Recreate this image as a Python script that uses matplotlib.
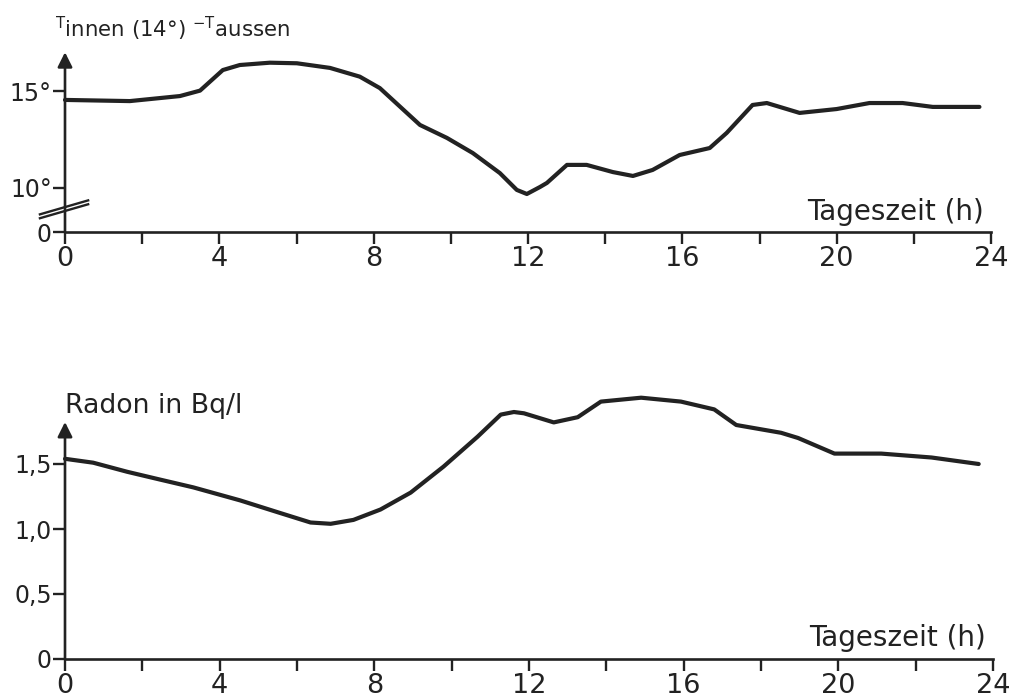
import numpy as np
import matplotlib.pyplot as plt

# Temperaturdifferenz innen - aussen (Grad)
t_hours = [0, 1.68, 2.98, 3.50, 4.09, 4.53, 5.31, 6.01, 6.87, 7.64, 8.16, 8.86, 9.20,
           9.90, 10.57, 11.27, 11.71, 11.97, 12.31, 12.49, 13.01, 13.52, 14.20, 14.72,
           15.23, 15.93, 16.71, 17.15, 17.82, 18.19, 19.04, 20.0, 20.85, 21.71, 22.49, 23.70]
t_diff = [14.54, 14.48, 14.74, 15.02, 16.08, 16.34, 16.46, 16.43, 16.19, 15.74, 15.15,
          13.87, 13.25, 12.58, 11.80, 10.77, 9.90, 9.69, 10.05, 10.26, 11.19, 11.19, 10.82,
          10.62, 10.93, 11.70, 12.06, 12.84, 14.28, 14.38, 13.87, 14.07, 14.38, 14.38,
          14.18, 14.18]

# Radon-Konzentration (Bq/l)
r_hours = [0, 0.73, 1.61, 2.46, 3.32, 4.53, 5.49, 6.35, 6.87, 7.46, 8.16, 8.94, 9.79,
           10.67, 11.27, 11.61, 11.87, 12.64, 13.26, 13.86, 14.90, 15.93, 16.79, 17.36,
           18.52, 18.96, 19.90, 21.11, 22.41, 23.63]
radon = [1.54, 1.51, 1.44, 1.38, 1.32, 1.22, 1.13, 1.05, 1.04, 1.07, 1.15, 1.28, 1.48,
         1.71, 1.88, 1.90, 1.89, 1.82, 1.86, 1.98, 2.01, 1.98, 1.92, 1.80, 1.74, 1.70,
         1.58, 1.58, 1.55, 1.50]

x_major = [0, 4, 8, 12, 16, 20, 24]
x_minor = [2, 6, 10, 14, 18, 22]

# gebrochene Achse: die 0 sitzt bei diesem Wert der Achse
zero_pos = 7.73

ink = '#222222'
plt.rcParams['font.family'] = ['DejaVu Sans']

W, H = 1011, 700
fig = plt.figure(figsize=(W / 100, H / 100), dpi=100)
fig.patch.set_facecolor('white')


def px_axes(left, right, top, bottom):
    return fig.add_axes([left / W, 1 - bottom / H, (right - left) / W, (bottom - top) / H])


def style_axis(ax, arrow_from, arrow_to):
    ax.set_xlim(0, 24)
    for s in ['top', 'right', 'left']:
        ax.spines[s].set_visible(False)
    ax.spines['bottom'].set_color(ink)
    ax.spines['bottom'].set_linewidth(1.9)
    ax.set_xticks(x_major)
    ax.set_xticks(x_minor, minor=True)
    ax.tick_params(axis='x', which='both', direction='out', length=8.5, width=1.7,
                   color=ink, pad=1.5, labelsize=19.5, labelcolor=ink)
    ax.tick_params(axis='y', direction='out', length=8.5, width=1.7,
                   color=ink, pad=1, labelsize=17, labelcolor=ink)
    # y-Achse mit Pfeilspitze
    ax.annotate('', xy=(0, arrow_to), xytext=(0, arrow_from),
                xycoords='data', textcoords='data', annotation_clip=False,
                arrowprops=dict(arrowstyle='-|>', color=ink, lw=1.9,
                                mutation_scale=22, shrinkA=0, shrinkB=0))
    ax.annotate('Tageszeit (h)', xy=(24, 0), xycoords=('data', 'axes fraction'),
                xytext=(-5, 9), textcoords='offset points', ha='right', va='baseline',
                fontsize=20, color=ink)


# oberes Diagramm
ax1 = px_axes(65, 991, 40, 232)
ax1.set_ylim(zero_pos, 17.63)
ax1.plot(t_hours, t_diff, color=ink, lw=3, solid_joinstyle='round',
         solid_capstyle='round', clip_on=False)
ax1.set_yticks([zero_pos, 10, 15])
ax1.set_yticklabels(['0', '10°', '15°'])
style_axis(ax1, zero_pos, 17.0)
# Bruchzeichen auf der y-Achse
for off in [0, 0.2]:
    ax1.plot([-0.65, 0.6], [8.44 + off, 9.16 + off], color=ink, lw=1.7, clip_on=False)
fig.text(55 / W, 1 - 37 / H, r'$\mathregular{{}^{T}innen\ (14°)\ {}^{-T}aussen}$',
         fontsize=15.3, color=ink, va='baseline', ha='left')

# unteres Diagramm
ax2 = px_axes(65, 993, 379.5, 659)
ax2.set_ylim(0, 2.15)
ax2.plot(r_hours, radon, color=ink, lw=3, solid_joinstyle='round',
         solid_capstyle='round', clip_on=False)
ax2.set_yticks([0, 0.5, 1.0, 1.5])
ax2.set_yticklabels(['0', '0,5', '1,0', '1,5'])
style_axis(ax2, 0, 1.823)
fig.text(65 / W, 1 - 413 / H, 'Radon in Bq/l', fontsize=19.3, color=ink,
         va='baseline', ha='left')

plt.savefig('out.png', dpi=100, facecolor='white')
